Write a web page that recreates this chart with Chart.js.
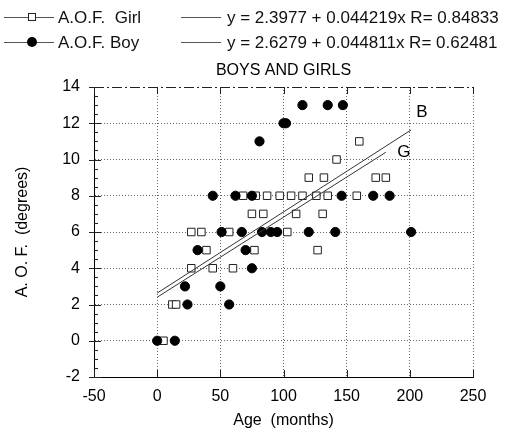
<!DOCTYPE html>
<html>
<head>
<meta charset="utf-8">
<script src="https://cdn.jsdelivr.net/npm/chart.js@4.4.1/dist/chart.umd.min.js"></script>
<style>
    body { margin: 0; background: #fff; }
    #wrap { position: relative; width: 518px; height: 432px; }
    #chart { position: absolute; left: 0; top: 0; }
    .leg { position: absolute; font-family: "Liberation Sans", Arial, sans-serif; font-size: 17px; color: #111; white-space: pre; line-height: 20px; }
    .ln { position: absolute; height: 0; border-top: 1px solid #555; }
    .sq { position: absolute; width: 6px; height: 6px; border: 1px solid #222; background: #fff; }
    .dot { position: absolute; width: 10px; height: 10px; border-radius: 50%; background: #000; }
</style>
</head>
<body>
<div id="wrap">
    <canvas id="chart" width="518" height="432"></canvas>
    <div class="ln" style="left:4px;top:17px;width:50px;"></div>
    <div class="sq" style="left:28px;top:13px;"></div>
    <div class="leg" style="left:58px;top:8px;">A.O.F.  Girl</div>
    <div class="ln" style="left:181px;top:17px;width:40px;"></div>
    <div class="leg" style="left:227px;top:8px;">y = 2.3977 + 0.044219x R= 0.84833</div>
    <div class="ln" style="left:4px;top:42px;width:50px;"></div>
    <div class="dot" style="left:27px;top:37px;"></div>
    <div class="leg" style="left:58px;top:33px;">A.O.F. Boy</div>
    <div class="ln" style="left:181px;top:42px;width:40px;"></div>
    <div class="leg" style="left:227px;top:33px;">y = 2.6279 + 0.044811x R= 0.62481</div>
</div>
<script>
// values
const girlAge = [5, 12, 15, 27, 44, 60, 39, 77, 127, 27, 35, 57, 103, 75, 84, 110, 131,
    68, 78, 87, 97, 106, 115, 126, 135, 158, 120, 132, 173, 181, 142, 160];
const girlAof = [0, 2, 2, 4, 4, 4, 5, 5, 5, 6, 6, 6, 6, 7, 7, 7, 7,
    8, 8, 8, 8, 8, 8, 8, 8, 8, 9, 9, 9, 9, 10, 11];

const boyAge = [0, 14, 24, 57, 22, 50, 75, 32, 70, 51, 67, 83, 90, 95, 120, 141, 201,
    44, 62, 75, 146, 171, 184, 81, 100, 102, 115, 135, 147];
const boyAof = [0, 0, 2, 2, 3, 3, 4, 5, 5, 6, 6, 6, 6, 6, 6, 6, 6,
    8, 8, 8, 8, 8, 8, 11, 12, 12, 13, 13, 13];

// fitted lines, end points
const girlFitAge = [0, 181];
const girlFitAof = [2.40, 10.40];
const boyFitAge = [0, 201];
const boyFitAof = [2.63, 11.63];

const xTicks = [-50, 0, 50, 100, 150, 200, 250];
const yTicks = [-2, 0, 2, 4, 6, 8, 10, 12, 14];

const toPoints = (xs, ys) => xs.map((x, i) => ({ x: x, y: ys[i] }));
const fontFamily = '"Liberation Sans", Arial, sans-serif';

// frame: title, top dash-dot line, axis tick marks, B / G labels
const frameDecor = {
    id: 'frameDecor',
    afterDatasetsDraw(chart) {
        const { ctx, chartArea: a, scales: { x, y } } = chart;
        ctx.save();
        ctx.strokeStyle = '#222';
        ctx.lineWidth = 1;
        ctx.setLineDash([10, 3, 2, 3]);
        ctx.beginPath();
        ctx.moveTo(a.left, Math.round(a.top) + 0.5);
        ctx.lineTo(a.right, Math.round(a.top) + 0.5);
        ctx.stroke();
        ctx.setLineDash([]);
        ctx.beginPath();
        xTicks.forEach(v => {
            const px = Math.round(x.getPixelForValue(v)) + 0.5;
            ctx.moveTo(px, a.bottom);
            ctx.lineTo(px, a.bottom - 7);
            ctx.moveTo(px, a.top);
            ctx.lineTo(px, a.top + 7);
        });
        yTicks.forEach(v => {
            const py = Math.round(y.getPixelForValue(v)) + 0.5;
            ctx.moveTo(a.left - 5, py);
            ctx.lineTo(a.left + 7, py);
        });
        for (let v = -2; v < 14; v += 0.5) {
            if (v % 2 === 0) continue;
            const py = Math.round(y.getPixelForValue(v)) + 0.5;
            ctx.moveTo(a.left, py);
            ctx.lineTo(a.left + 4, py);
        }
        ctx.stroke();
        ctx.fillStyle = '#000';
        ctx.font = '17px ' + fontFamily;
        ctx.textAlign = 'left';
        ctx.textBaseline = 'middle';
        ctx.fillText('B', x.getPixelForValue(205), y.getPixelForValue(12.6));
        ctx.fillText('G', x.getPixelForValue(190), y.getPixelForValue(10.4));
        ctx.font = '16px ' + fontFamily;
        ctx.textAlign = 'center';
        ctx.fillText('BOYS AND GIRLS', (a.left + a.right) / 2, a.top - 16);
        ctx.restore();
    }
};

new Chart(document.getElementById('chart'), {
    type: 'scatter',
    data: {
        datasets: [
            {
                label: 'fit girl',
                type: 'line',
                data: toPoints(girlFitAge, girlFitAof),
                borderColor: '#333',
                borderWidth: 1,
                pointRadius: 0,
                fill: false,
            },
            {
                label: 'fit boy',
                type: 'line',
                data: toPoints(boyFitAge, boyFitAof),
                borderColor: '#333',
                borderWidth: 1,
                pointRadius: 0,
                fill: false,
            },
            {
                label: 'A.O.F. Boy',
                data: toPoints(boyAge, boyAof),
                pointStyle: 'circle',
                pointRadius: 4.6,
                backgroundColor: '#000',
                borderColor: '#000',
                borderWidth: 1,
            },
            {
                label: 'A.O.F. Girl',
                data: toPoints(girlAge, girlAof),
                pointStyle: 'rect',
                pointRadius: 5.3,
                backgroundColor: '#fff',
                borderColor: '#222',
                borderWidth: 1,
            },
        ]
    },
    options: {
        responsive: false,
        animation: false,
        layout: {
            padding: { top: 87, right: 45, bottom: 0, left: 0 },
        },
        plugins: {
            legend: { display: false },
            tooltip: { enabled: false },
            title: { display: false },
        },
        scales: {
            x: {
                type: 'linear',
                min: -50,
                max: 250,
                afterFit: (s) => { s.height = 55; },
                ticks: {
                    stepSize: 50,
                    color: '#000',
                    padding: 10,
                    font: { family: fontFamily, size: 16 },
                },
                grid: {
                    color: (c) => (c.tick && c.tick.value === -50) ? 'transparent' : '#666',
                    drawTicks: false,
                },
                border: { display: true, color: '#000', width: 1, dash: [1, 2] },
                title: {
                    display: true,
                    text: 'Age  (months)',
                    color: '#000',
                    font: { family: fontFamily, size: 16 },
                    padding: { top: 0, bottom: 2 },
                },
            },
            y: {
                min: -2,
                max: 14,
                afterFit: (s) => { s.width = 94; },
                ticks: {
                    stepSize: 2,
                    color: '#000',
                    padding: 14,
                    font: { family: fontFamily, size: 16 },
                },
                grid: {
                    color: (c) => (c.tick && (c.tick.value === 14 || c.tick.value === -2)) ? 'transparent' : '#666',
                    drawTicks: false,
                },
                border: { display: true, color: '#000', width: 1, dash: [1, 2] },
                title: {
                    display: true,
                    text: 'A. O. F.  (degrees)',
                    color: '#000',
                    font: { family: fontFamily, size: 16 },
                    padding: { top: 13, bottom: 0 },
                },
            },
        },
    },
    plugins: [frameDecor],
});
</script>
</body>
</html>
